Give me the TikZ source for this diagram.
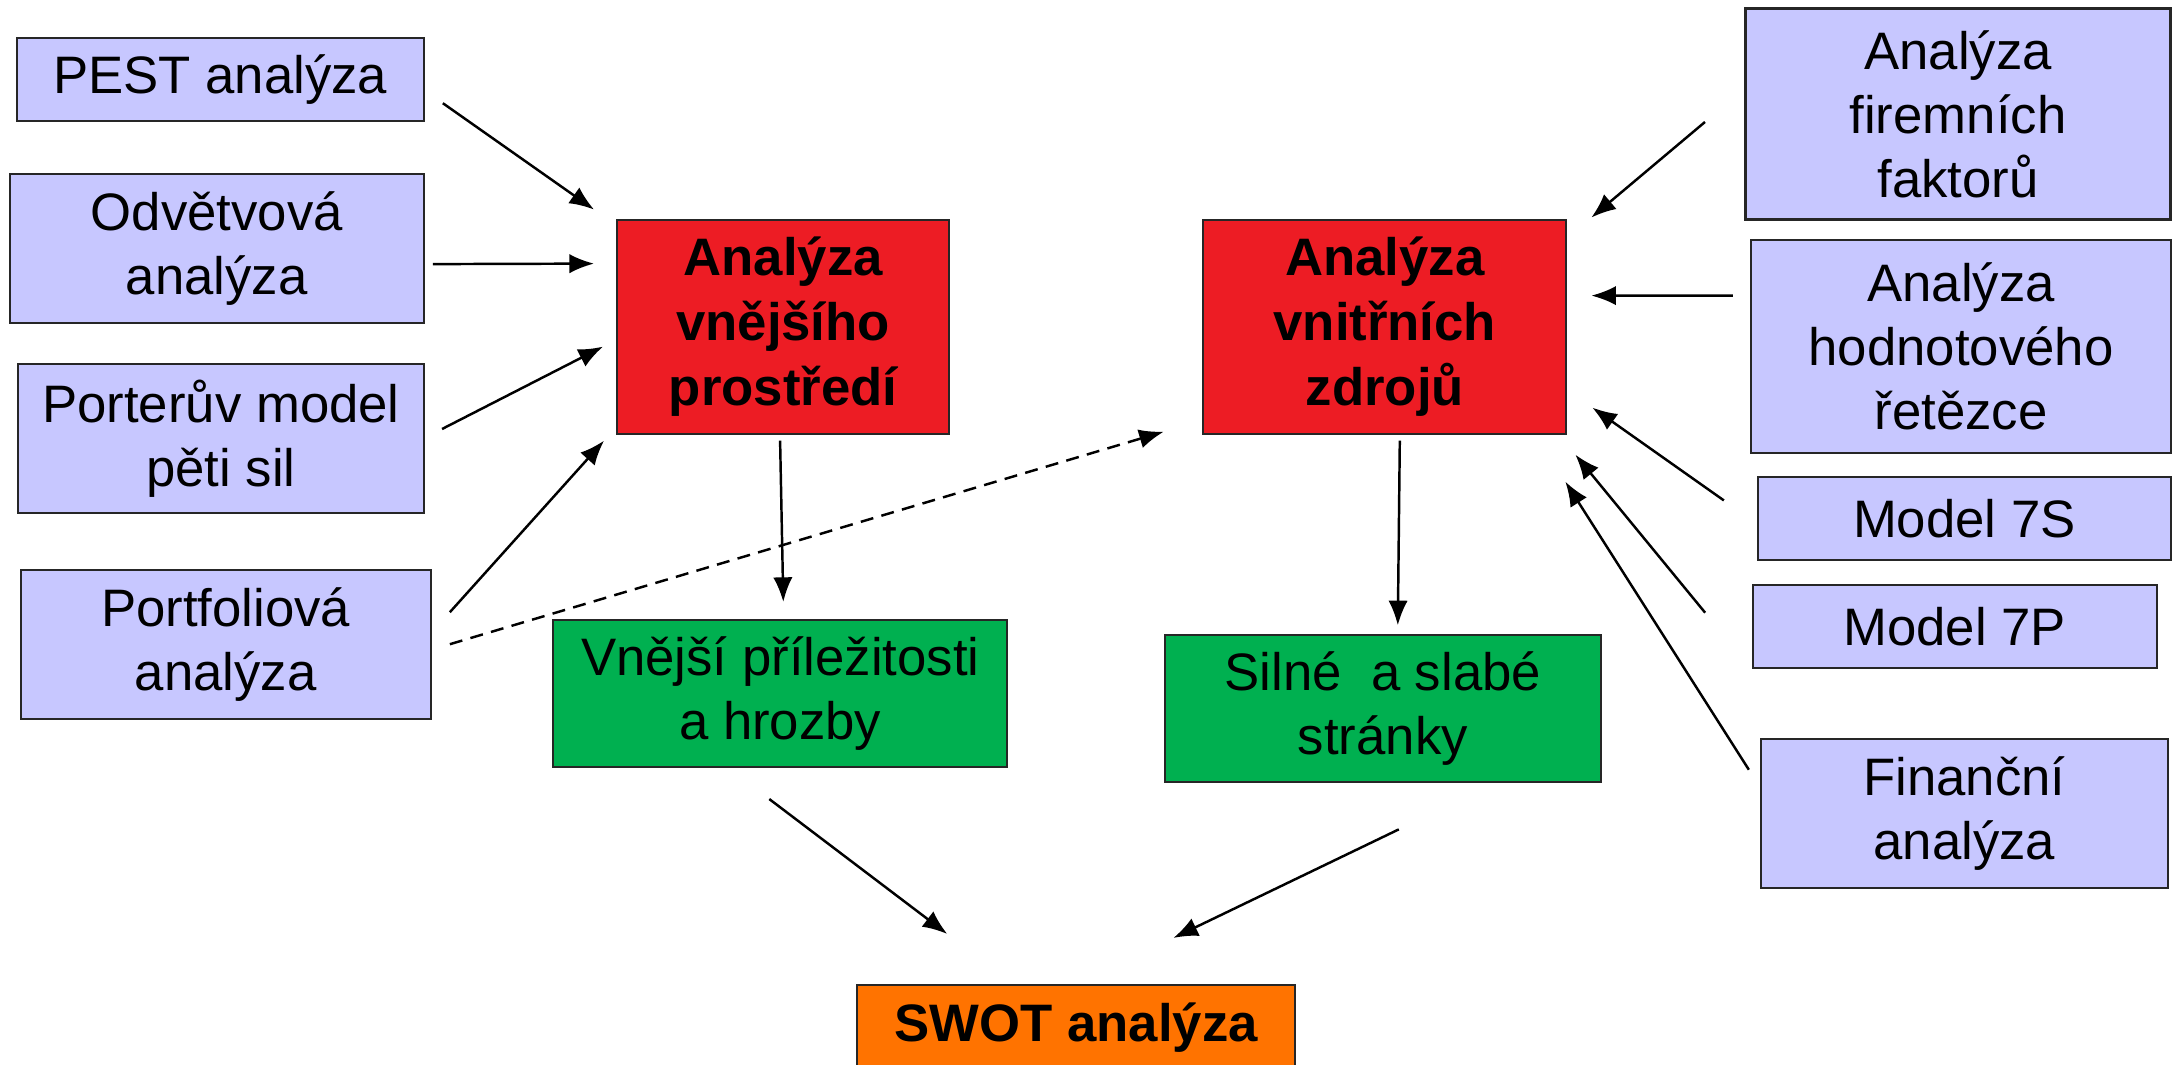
\documentclass[tikz,border=0pt]{standalone}
\usepackage{fontspec}
\setmainfont{Liberation Sans}
\usepackage{xcolor}
\usepackage{tikz}
\usetikzlibrary{arrows.meta}
\definecolor{lavender}{RGB}{199,199,255}
\definecolor{keyred}{RGB}{237,28,36}
\definecolor{resgreen}{RGB}{0,176,80}
\definecolor{swotorange}{RGB}{255,115,0}
\tikzstyle{srcbox} = [rectangle, draw=black!85, fill=lavender, line width=0.6pt, align=center, inner sep=0pt, font=\fontsize{15}{18.2}\selectfont]
\tikzstyle{keybox} = [srcbox, fill=keyred, font=\fontsize{15}{18.6}\selectfont\bfseries]
\tikzstyle{resbox} = [srcbox, fill=resgreen]
\tikzstyle{swotbox} = [srcbox, fill=swotorange, font=\fontsize{15}{18.2}\selectfont\bfseries]
\tikzstyle{arr} = [line width=0.7pt, -{Latex[length=7pt,width=5.5pt]}]

\begin{document}
\begin{tikzpicture}
    \path[use as bounding box, fill=white] (0,0) rectangle (21.79,-10.65);

    \node (pest) [srcbox, minimum width=4.07cm, minimum height=0.83cm] at (2.203,-0.792) {PEST analýza};
    \node (odv) [srcbox, minimum width=4.14cm, minimum height=1.49cm] at (2.168,-2.481) {Odvětvová\\analýza};
    \node (porter) [srcbox, minimum width=4.06cm, minimum height=1.49cm] at (2.21,-4.385) {Porterův model\\pěti sil};
    \node (portf) [srcbox, minimum width=4.10cm, minimum height=1.49cm] at (2.258,-6.442) {Portfoliová\\analýza};

    \node (ext) [keybox, minimum width=3.32cm, minimum height=2.14cm] at (7.831,-3.266) {Analýza\\vnějšího\\prostředí};
    \node (int) [keybox, minimum width=3.63cm, minimum height=2.14cm] at (13.848,-3.266) {Analýza\\vnitřních\\zdrojů};

    \node (firm) [srcbox, minimum width=4.25cm, minimum height=2.11cm] at (19.58,-1.14) {Analýza\\firemních\\faktorů};
    \node (hodn) [srcbox, minimum width=4.20cm, minimum height=2.13cm] at (19.61,-3.467) {Analýza\\hodnotového\\řetězce};
    \node (m7s) [srcbox, minimum width=4.13cm, minimum height=0.83cm] at (19.644,-5.184) {Model 7S};
    \node (m7p) [srcbox, minimum width=4.04cm, minimum height=0.83cm] at (19.547,-6.267) {Model 7P};
    \node (fin) [srcbox, minimum width=4.07cm, minimum height=1.49cm] at (19.644,-8.137) {Finanční\\analýza};

    \node (opp) [resbox, minimum width=4.54cm, minimum height=1.47cm] at (7.803,-6.935) {Vnější příležitosti\\a hrozby};
    \node (sw) [resbox, minimum width=4.36cm, minimum height=1.47cm] at (13.828,-7.088) {Silné \ a slabé\\stránky};
    \node (swot) [swotbox, minimum width=4.38cm, minimum height=0.86cm] at (10.763,-10.28) {SWOT analýza};

    \draw[arr] ([shift={(0.18,-0.24)}]pest.east) -- ([shift={(-0.22,0.09)}]ext.north west);
    \draw[arr] ([shift={(0.08,-0.16)}]odv.east) -- ([shift={(-0.22,0.63)}]ext.west);
    \draw[arr] ([shift={(0.17,0.095)}]porter.east) -- ([shift={(-0.13,-0.20)}]ext.west);
    \draw[arr] ([shift={(0.18,0.32)}]portf.east) -- ([shift={(-0.12,-0.06)}]ext.south west);
    \draw[arr, dash pattern=on 3.7pt off 2.4pt] ([shift={(0.18,0)}]portf.east) -- ([shift={(-0.385,0.03)}]int.south west);

    \draw[arr] ([shift={(-0.03,-0.06)}]ext.south) -- ([shift={(0.03,0.17)}]opp.north);
    \draw[arr] ([shift={(0.15,-0.06)}]int.south) -- ([shift={(0.15,0.09)}]sw.north);

    \draw[arr] ([shift={(-0.395,-0.08)}]firm.west) -- ([shift={(0.24,0.01)}]int.north east);
    \draw[arr] ([shift={(-0.17,0.51)}]hodn.west) -- ([shift={(0.24,0.31)}]int.east);
    \draw[arr] ([shift={(-0.33,0.18)}]m7s.west) -- ([shift={(0.25,-0.81)}]int.east);
    \draw[arr] ([shift={(-0.465,0.14)}]m7p.west) -- ([shift={(0.08,-0.20)}]int.south east);
    \draw[arr] ([shift={(-0.11,0.44)}]fin.west) -- ([shift={(-0.02,-0.47)}]int.south east);

    \draw[arr] ([shift={(-0.11,-0.31)}]opp.south) -- ([shift={(0.91,0.50)}]swot.north west);
    \draw[arr] ([shift={(0.16,-0.46)}]sw.south) -- ([shift={(-1.23,0.46)}]swot.north east);
\end{tikzpicture}
\end{document}
